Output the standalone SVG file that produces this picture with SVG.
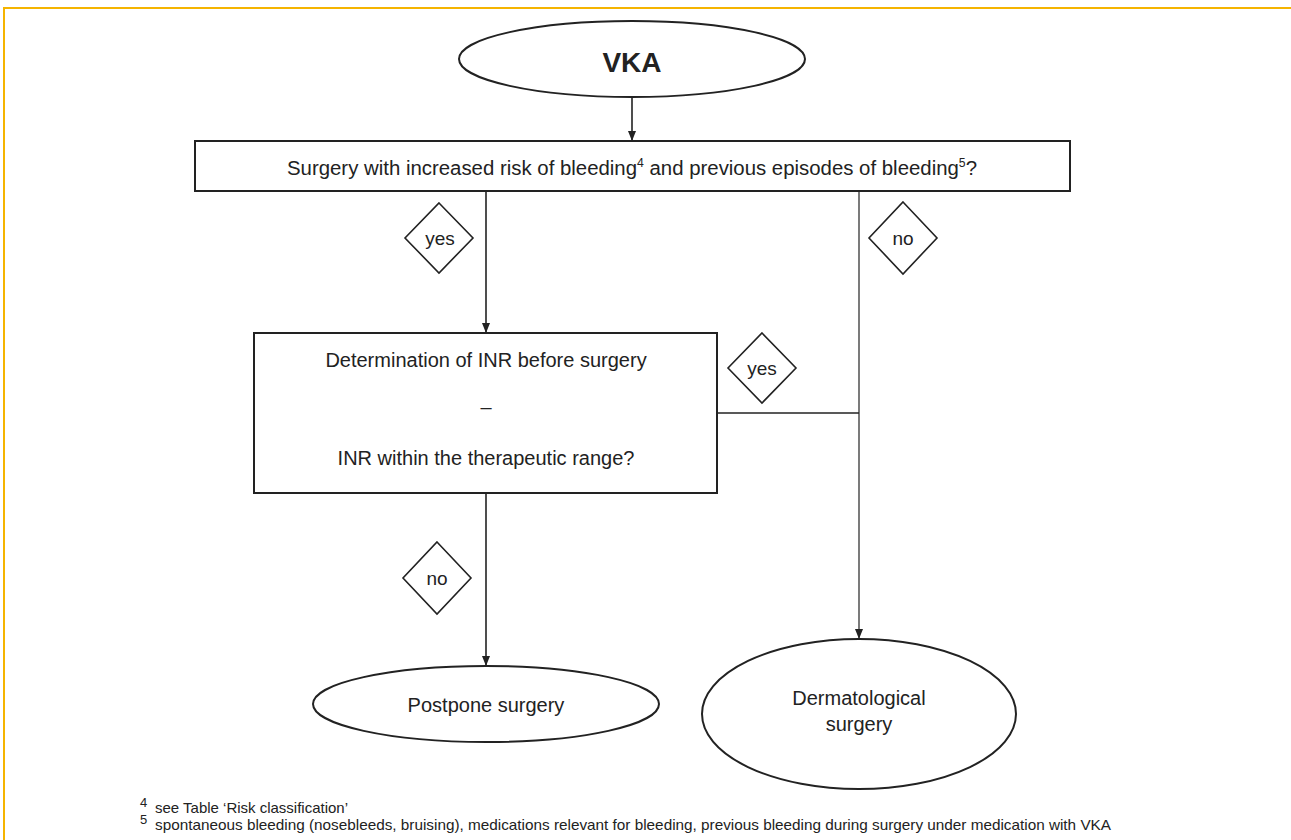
<svg xmlns="http://www.w3.org/2000/svg" width="1291" height="840" viewBox="0 0 1291 840">
<style>
.shape{fill:#fff;stroke:#222;stroke-width:2}
.dia{fill:#fff;stroke:#222;stroke-width:1.6}
.t{font-family:"Liberation Sans",Arial,sans-serif;fill:#222;text-anchor:middle}
.c{stroke:#222;stroke-width:1.6;fill:none}
.fn{font-family:"Liberation Sans",Arial,sans-serif;fill:#222}
</style>
<defs>
<marker id="arr" viewBox="0 0 10 10" refX="10" refY="5" markerWidth="10" markerHeight="10" markerUnits="userSpaceOnUse" orient="auto">
<path d="M0,1 L10,5 L0,9 Z" fill="#222"/>
</marker>
</defs>
<rect width="1291" height="840" fill="#fff"/>
<path d="M4,840 V8 H1291" fill="none" stroke="#F5B400" stroke-width="2"/>

<g id="connectors">
<line class="c" x1="632" y1="97" x2="632" y2="141" marker-end="url(#arr)"/>
<line class="c" x1="486" y1="191" x2="486" y2="333" marker-end="url(#arr)"/>
<line class="c" x1="859" y1="191" x2="859" y2="639" style="stroke-width:1.2" marker-end="url(#arr)"/>
<line class="c" x1="717" y1="413" x2="859" y2="413"/>
<line class="c" x1="486" y1="493" x2="486" y2="666" marker-end="url(#arr)"/>
</g>

<g id="vka">
<ellipse class="shape" cx="632" cy="59" rx="173" ry="38"/>
<text class="t" x="632" y="72" font-size="28" font-weight="bold">VKA</text>
</g>

<g id="q1">
<rect class="shape" x="195" y="141" width="875" height="50"/>
<text class="t" x="632" y="175" font-size="20" textLength="690" lengthAdjust="spacingAndGlyphs">Surgery with increased risk of bleeding<tspan font-size="12" dy="-8">4</tspan><tspan dy="8"> and previous episodes of bleeding</tspan><tspan font-size="12" dy="-8">5</tspan><tspan dy="8">?</tspan></text>
</g>

<g id="yes1">
<polygon class="dia" points="439,203 473,238 439,273 405,238"/>
<text class="t" x="440" y="245" font-size="19">yes</text>
</g>

<g id="no1">
<polygon class="dia" points="903,202 937,238 903,274 869,238"/>
<text class="t" x="903" y="245" font-size="19">no</text>
</g>

<g id="q2">
<rect class="shape" x="254" y="333" width="463" height="160"/>
<text class="t" x="486" y="367" font-size="20">Determination of INR before surgery</text>
<text class="t" x="486" y="414" font-size="20">–</text>
<text class="t" x="486" y="465" font-size="20">INR within the therapeutic range?</text>
</g>

<g id="yes2">
<polygon class="dia" points="762,333 796,368 762,403 728,368"/>
<text class="t" x="762" y="375" font-size="19">yes</text>
</g>

<g id="no2">
<polygon class="dia" points="437,542 471,578 437,614 403,578"/>
<text class="t" x="437" y="585" font-size="19">no</text>
</g>

<g id="postpone">
<ellipse class="shape" cx="486" cy="704" rx="173" ry="38"/>
<text class="t" x="486" y="712" font-size="20">Postpone surgery</text>
</g>

<g id="derm">
<ellipse class="shape" cx="859" cy="714" rx="157" ry="75"/>
<text class="t" x="859" y="705" font-size="20">Dermatological</text>
<text class="t" x="859" y="731" font-size="20">surgery</text>
</g>

<g id="footnotes">
<text class="fn" x="140" y="807" font-size="13">4</text>
<text class="fn" x="155" y="813" font-size="14.5" textLength="193" lengthAdjust="spacingAndGlyphs">see Table ‘Risk classification’</text>
<text class="fn" x="140" y="824" font-size="13">5</text>
<text class="fn" x="155" y="830" font-size="14.5" textLength="956" lengthAdjust="spacingAndGlyphs">spontaneous bleeding (nosebleeds, bruising), medications relevant for bleeding, previous bleeding during surgery under medication with VKA</text>
</g>
</svg>
